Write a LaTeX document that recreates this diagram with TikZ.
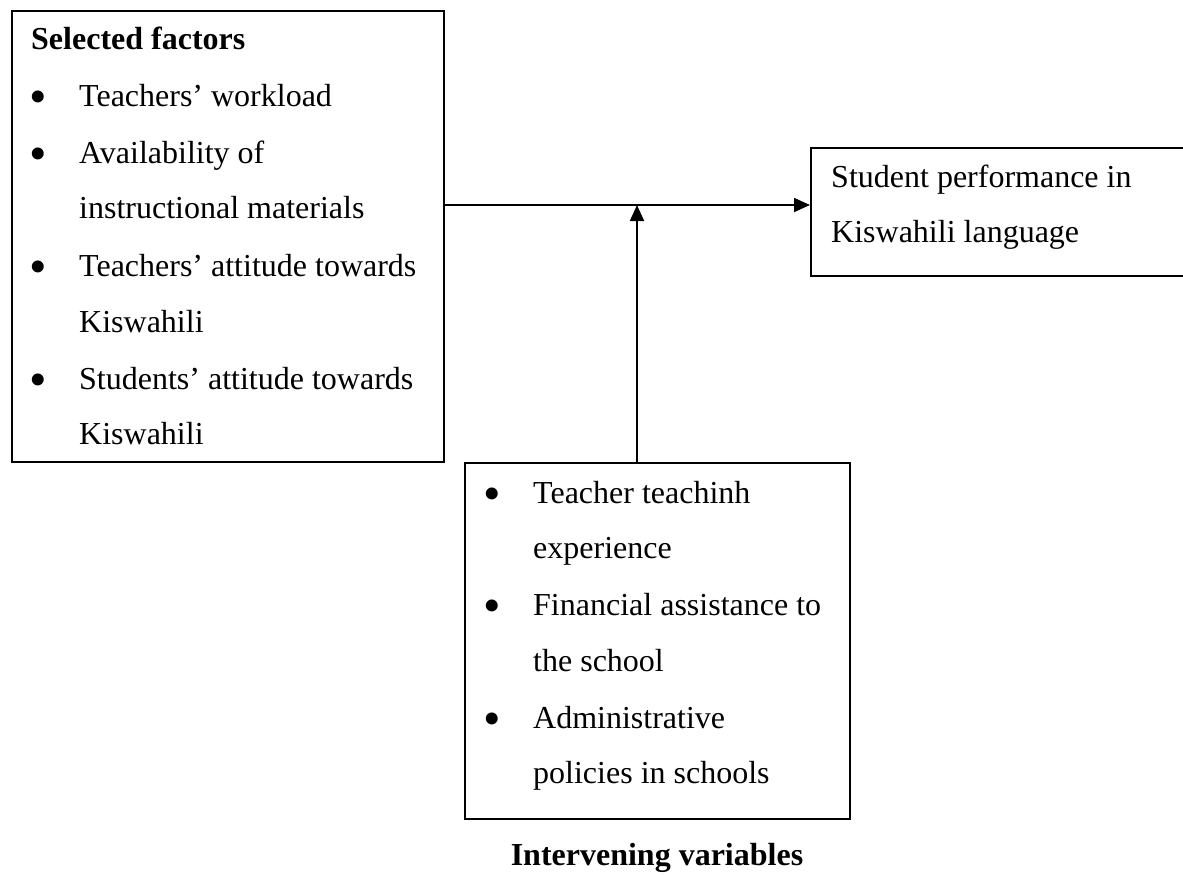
\documentclass[tikz,border=0pt]{standalone}
\usepackage{fontspec}
\setmainfont{Liberation Serif}
\usetikzlibrary{arrows.meta}
\begin{document}
\begin{tikzpicture}[x=1pt,y=-1pt,
  box/.style={draw=black,line width=1.8pt,inner sep=0pt,anchor=north west},
  txt/.style={anchor=base west,inner sep=0pt,font=\fontsize{32}{38}\selectfont},
  btxt/.style={txt,font=\fontsize{32}{38}\selectfont\bfseries},
  bul/.style={anchor=base,inner sep=0pt,font=\fontsize{50}{56}\selectfont,yshift=-7pt},
  arr/.style={line width=1.8pt,-{Triangle[length=16pt,width=14pt]}}]
\useasboundingbox (0,0) rectangle (1183,875);
% boxes
\node[box,minimum width=432pt,minimum height=451pt] (sel) at (11,10) {};
\node[box,minimum width=400pt,minimum height=128pt] (res) at (810,147) {};
\node[box,minimum width=385pt,minimum height=356pt] (int) at (464,462) {};
\coordinate (j) at (637,205);
% connectors
\draw[arr] (sel.east |- j) -- (res.west |- j);
\draw[arr] (int.north -| j) -- (j);
% left box text
\node[btxt] (s0) at (31,50) {Selected factors};
\node[bul] (b1) at (38,106) {•};
\node[txt] (s1) at (79,106) {Teachers’ workload};
\node[bul] (b2) at (38,163) {•};
\node[txt] (s2) at (79,163) {Availability of};
\node[txt] (s3) at (79,218) {instructional materials};
\node[bul] (b3) at (38,276) {•};
\node[txt] (s4) at (79,276) {Teachers’ attitude towards};
\node[txt] (s5) at (79,332) {Kiswahili};
\node[bul] (b4) at (38,389) {•};
\node[txt] (s6) at (79,389) {Students’ attitude towards};
\node[txt] (s7) at (79,444) {Kiswahili};
% right box text
\node[txt] (r1) at (831,187) {Student performance in};
\node[txt] (r2) at (831,242) {Kiswahili language};
% bottom box text
\node[bul] (c1) at (492,503) {•};
\node[txt] (i1) at (533,503) {Teacher teachinh};
\node[txt] (i2) at (533,558) {experience};
\node[bul] (c2) at (492,615) {•};
\node[txt] (i3) at (533,615) {Financial assistance to};
\node[txt] (i4) at (533,671) {the school};
\node[bul] (c3) at (492,728) {•};
\node[txt] (i5) at (533,728) {Administrative};
\node[txt] (i6) at (533,783) {policies in schools};
% caption
\node[btxt,anchor=base] (cap) at (657,865) {Intervening variables};
\end{tikzpicture}
\end{document}
